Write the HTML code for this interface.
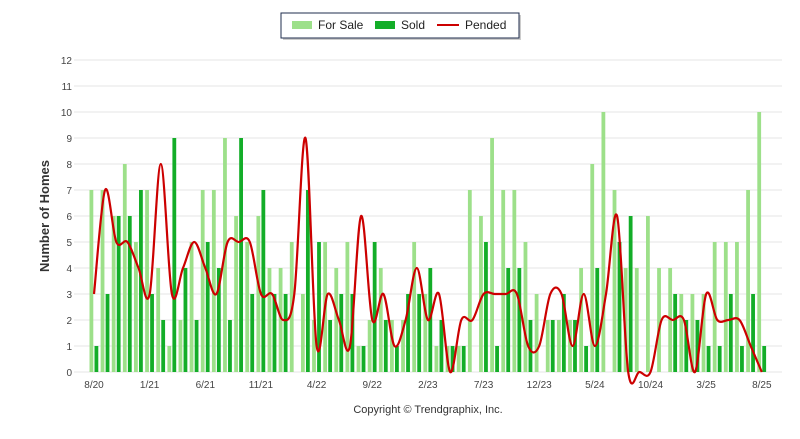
<!DOCTYPE html>
<html><head><meta charset="utf-8"><style>
body{margin:0;background:#fff;width:800px;height:434px;overflow:hidden;font-family:"Liberation Sans",sans-serif}
</style></head><body>
<svg id="chart" width="800" height="434" xmlns="http://www.w3.org/2000/svg">
<g id="grid"></g>
<g id="yticks"></g>
<g id="xticks"></g>
<g id="bars"></g>
<path id="pended" fill="none" stroke="#cc0000" stroke-width="2.2"/>
<text transform="translate(49,216) rotate(-90)" text-anchor="middle" font-size="13" font-weight="bold" fill="#333">Number of Homes</text>
<text x="428" y="413" text-anchor="middle" font-size="11" fill="#333">Copyright © Trendgraphix, Inc.</text>
<g>
<rect x="283" y="15" width="238" height="25" fill="#999" opacity="0.5"/>
<rect x="281" y="13" width="238" height="25" fill="#fff" stroke="#1f2d4d" stroke-width="1"/>
<g><rect x="292" y="21" width="20" height="8" fill="#9de08a"/><text x="318" y="29" font-size="12" fill="#222">For Sale</text></g>
<g><rect x="375" y="21" width="20" height="8" fill="#13ad28"/><text x="401" y="29" font-size="12" fill="#222">Sold</text></g>
<g><line x1="437" y1="25" x2="459" y2="25" stroke="#cc0000" stroke-width="2"/><text x="465" y="29" font-size="12" fill="#222">Pended</text></g>
</g>
</svg>
<script>
const xLabels = ["8/20","1/21","6/21","11/21","4/22","9/22","2/23","7/23","12/23","5/24","10/24","3/25","8/25"];
const yTicks = [0,1,2,3,4,5,6,7,8,9,10,11,12];
const forSale = [7,7,6,8,5,7,4,1,2,5,7,7,9,6,5,6,4,4,5,3,2,5,4,5,1,2,4,2,2,5,3,1,1,1,7,6,9,7,7,5,3,2,2,2,4,8,10,7,4,4,6,4,4,3,3,3,5,5,5,7,10];
const sold = [1,3,6,6,7,3,2,9,4,2,5,4,2,9,3,7,3,3,0,7,5,2,3,3,1,5,2,1,3,3,4,2,1,1,0,5,1,4,4,2,0,2,3,2,1,4,0,5,6,0,0,0,3,2,2,1,1,3,1,3,1];
const pended = [3,7,5,5,4,3,8,3,4,5,4,3,5,5,5,3,3,2,3,9,1,3,2,1,6,2,3,1,2,4,2,3,0,2,2,3,3,3,3,1,1,3,3,1,3,1,3,6,0,0,0,2,2,2,0,3,2,2,2,1,0];
const NS="http://www.w3.org/2000/svg";
const x0=94, dx=11.13, y0=372, dy=26;
function xs(i){return x0+dx*i;}
function ys(v){return y0-dy*v;}
function mk(tag,attrs,parent){const e=document.createElementNS(NS,tag);for(const k in attrs)e.setAttribute(k,attrs[k]);document.getElementById(parent).appendChild(e);return e;}
yTicks.forEach(v=>{
  const l=mk('line',{x1:74,x2:782,y1:ys(v),y2:ys(v),stroke:'#e6e6e6','stroke-width':1},'grid');
  
  
  const t=mk('text',{x:72,y:ys(v)+4,'text-anchor':'end','font-size':10,fill:'#444'},'yticks');
  
  
  t.textContent=v;
});
xLabels.forEach((s,k)=>{
  const t=mk('text',{x:xs(k*5),y:388,'text-anchor':'middle','font-size':10,fill:'#444'},'xticks');
  
  
  t.textContent=s;
});
forSale.forEach((v,i)=>{
  const r=mk('rect',{x:xs(i)-4.5,y:ys(v),width:3.8,height:y0-ys(v),fill:'#9de08a'},'bars');
  
  
});
sold.forEach((v,i)=>{
  const r=mk('rect',{x:xs(i)+0.5,y:ys(v),width:3.8,height:y0-ys(v),fill:'#13ad28'},'bars');
  
  
});
const pts=pended.map((v,i)=>[xs(i),ys(v)]);
let d='M'+pts[0][0]+','+pts[0][1];
for(let i=0;i<pts.length-1;i++){
  const p0=pts[Math.max(0,i-1)],p1=pts[i],p2=pts[i+1],p3=pts[Math.min(pts.length-1,i+2)];
  const t=0.5;
  const c1=[p1[0]+(p2[0]-p0[0])*t/3,p1[1]+(p2[1]-p0[1])*t/3];
  const c2=[p2[0]-(p3[0]-p1[0])*t/3,p2[1]-(p3[1]-p1[1])*t/3];
  d+=' C'+c1[0].toFixed(1)+','+c1[1].toFixed(1)+' '+c2[0].toFixed(1)+','+c2[1].toFixed(1)+' '+p2[0].toFixed(1)+','+p2[1].toFixed(1);
}
document.getElementById('pended').setAttribute('d',d);
</script>
</body></html>
